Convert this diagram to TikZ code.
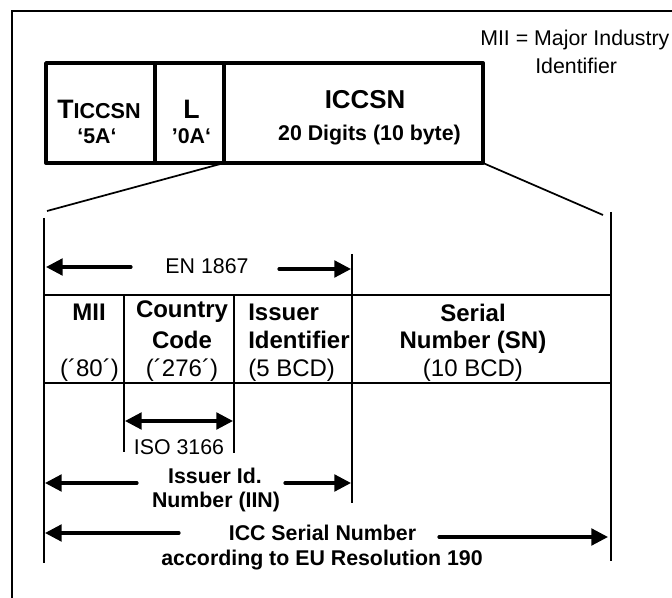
\documentclass[tikz,border=0pt]{standalone}
\usepackage{fontspec}
\setmainfont{Liberation Sans}
\usetikzlibrary{arrows.meta}
\tikzset{
  x=0.75pt,y=-0.75pt,
  frame/.style={line width=1.6pt,line cap=butt},
  heavy/.style={line width=2.9pt,line cap=round,line join=round},
  thin line/.style={line width=1.15pt,line cap=butt},
  wide arrow/.style={line width=2.4pt,line cap=round,-{Triangle[length=12.5pt,width=12.5pt]}},
  both arrow/.style={line width=2.4pt,{Triangle[length=12.5pt,width=12.5pt]}-{Triangle[length=12.5pt,width=12.5pt]}},
  txt/.style={inner sep=0pt,align=center,font=\fontsize{16pt}{18pt}\selectfont},
  btxt/.style={txt,font=\fontsize{16pt}{18pt}\selectfont\bfseries},
  celltxt/.style={inner sep=0pt,align=center,font=\fontsize{18pt}{20pt}\selectfont},
  cellb/.style={celltxt,font=\fontsize{18pt}{20pt}\selectfont\bfseries},
}
\begin{document}
\begin{tikzpicture}
\useasboundingbox (0,0) rectangle (672,598);
\fill[white] (0,0) rectangle (672,598);
\coordinate (ftl) at (12,11);
\coordinate (ftr) at (672,11);
\coordinate (fbl) at (12,598);
\draw[frame] (ftr) -- (ftl) -- (fbl);
% top record
\coordinate (rtl) at (46,63);
\coordinate (rbr) at (483,163);
\draw[heavy] (rtl) rectangle (rbr);
\coordinate (d1t) at (155,63); \coordinate (d1b) at (155,163);
\coordinate (d2t) at (224,63); \coordinate (d2b) at (224,163);
\draw[heavy] (d1t) -- (d1b);
\draw[heavy] (d2t) -- (d2b);
\node[btxt] (t1) at (99,109) {\fontsize{20pt}{22pt}\selectfont T\fontsize{16.2pt}{18pt}\selectfont ICCSN};
\node[btxt] (t1b) at (97,136) {‘5A‘};
\node[btxt,font=\fontsize{20pt}{22pt}\selectfont\bfseries] (t2) at (191.5,109) {L};
\node[btxt] (t2b) at (191.5,136) {’0A‘};
\node[btxt,font=\fontsize{19.4pt}{22pt}\selectfont\bfseries] (t3) at (365,100) {ICCSN};
\node[btxt] (t3b) at (369.5,135) {20 Digits (10 byte)};
% zoom lines
\coordinate (zl) at (47,211); \coordinate (zr) at (603,215);
\draw[line width=1.3pt] (d2b) -- (zl);
\draw[line width=1.3pt] (rbr) -- (zr);
% MII note
\node[txt,anchor=west] (mii) at (480,40) {MII = Major Industry};
\node[txt,anchor=west] (mii2) at (535,66) {Identifier};
% table
\coordinate (a0) at (44,218); \coordinate (a1) at (44,563);
\coordinate (b0) at (611,212); \coordinate (b1) at (611,561);
\coordinate (c0) at (352,254); \coordinate (c1) at (352,503);
\draw[thin line] (a0) -- (a1);
\draw[thin line] (b0) -- (b1);
\draw[thin line] (c0) -- (c1);
\coordinate (h1l) at (44,295); \coordinate (h1r) at (611,295);
\coordinate (h2l) at (44,383); \coordinate (h2r) at (611,383);
\draw[thin line] (h1l) -- (h1r);
\draw[thin line] (h2l) -- (h2r);
\coordinate (m0) at (124,295); \coordinate (m1) at (124,452);
\coordinate (n0) at (234,295); \coordinate (n1) at (234,453);
\draw[thin line] (m0) -- (m1);
\draw[thin line] (n0) -- (n1);
% EN arrows
\node[txt] (en) at (207,266) {EN 1867};
\coordinate (e1) at (131,267); \coordinate (e2) at (46,267);
\coordinate (e3) at (279,269); \coordinate (e4) at (351,269);
\draw[wide arrow] (e1) -- (e2);
\draw[wide arrow] (e3) -- (e4);
% cells
\node[cellb] (c1a) at (89,312) {MII};
\node[celltxt] (c1c) at (89.5,370) {(´80´)};
\node[cellb] (c2a) at (182,312) {Country};
\node[cellb] (c2b) at (182,340) {Code};
\node[celltxt] (c2c) at (182,370) {(´276´)};
\node[cellb,anchor=west] (c3a) at (248,312) {Issuer};
\node[cellb,anchor=west] (c3b) at (248,340) {Identifier};
\node[celltxt,anchor=west] (c3c) at (248,370) {(5 BCD)};
\node[cellb] (c4a) at (473,313) {Serial};
\node[cellb] (c4b) at (473,342) {Number (SN)};
\node[celltxt] (c4c) at (473,370) {(10 BCD)};
% ISO
\coordinate (i1) at (125,421); \coordinate (i2) at (233,421);
\draw[both arrow] (i1) -- (i2);
\node[txt] (iso) at (179,447) {ISO 3166};
% IIN
\node[btxt] (iin) at (215,476) {Issuer Id.};
\node[btxt] (iin2) at (216,502) {Number (IIN)};
\coordinate (j1) at (137,483); \coordinate (j2) at (45,483);
\coordinate (j3) at (285,483); \coordinate (j4) at (351,483);
\draw[wide arrow] (j1) -- (j2);
\draw[wide arrow] (j3) -- (j4);
% ICC
\node[btxt] (icc) at (322.5,533) {ICC Serial Number};
\node[btxt] (icc2) at (322,560) {according to EU Resolution 190};
\coordinate (k1) at (179,533); \coordinate (k2) at (45,533);
\coordinate (k3) at (439,537); \coordinate (k4) at (608,537);
\draw[wide arrow] (k1) -- (k2);
\draw[wide arrow] (k3) -- (k4);
\end{tikzpicture}
\end{document}
